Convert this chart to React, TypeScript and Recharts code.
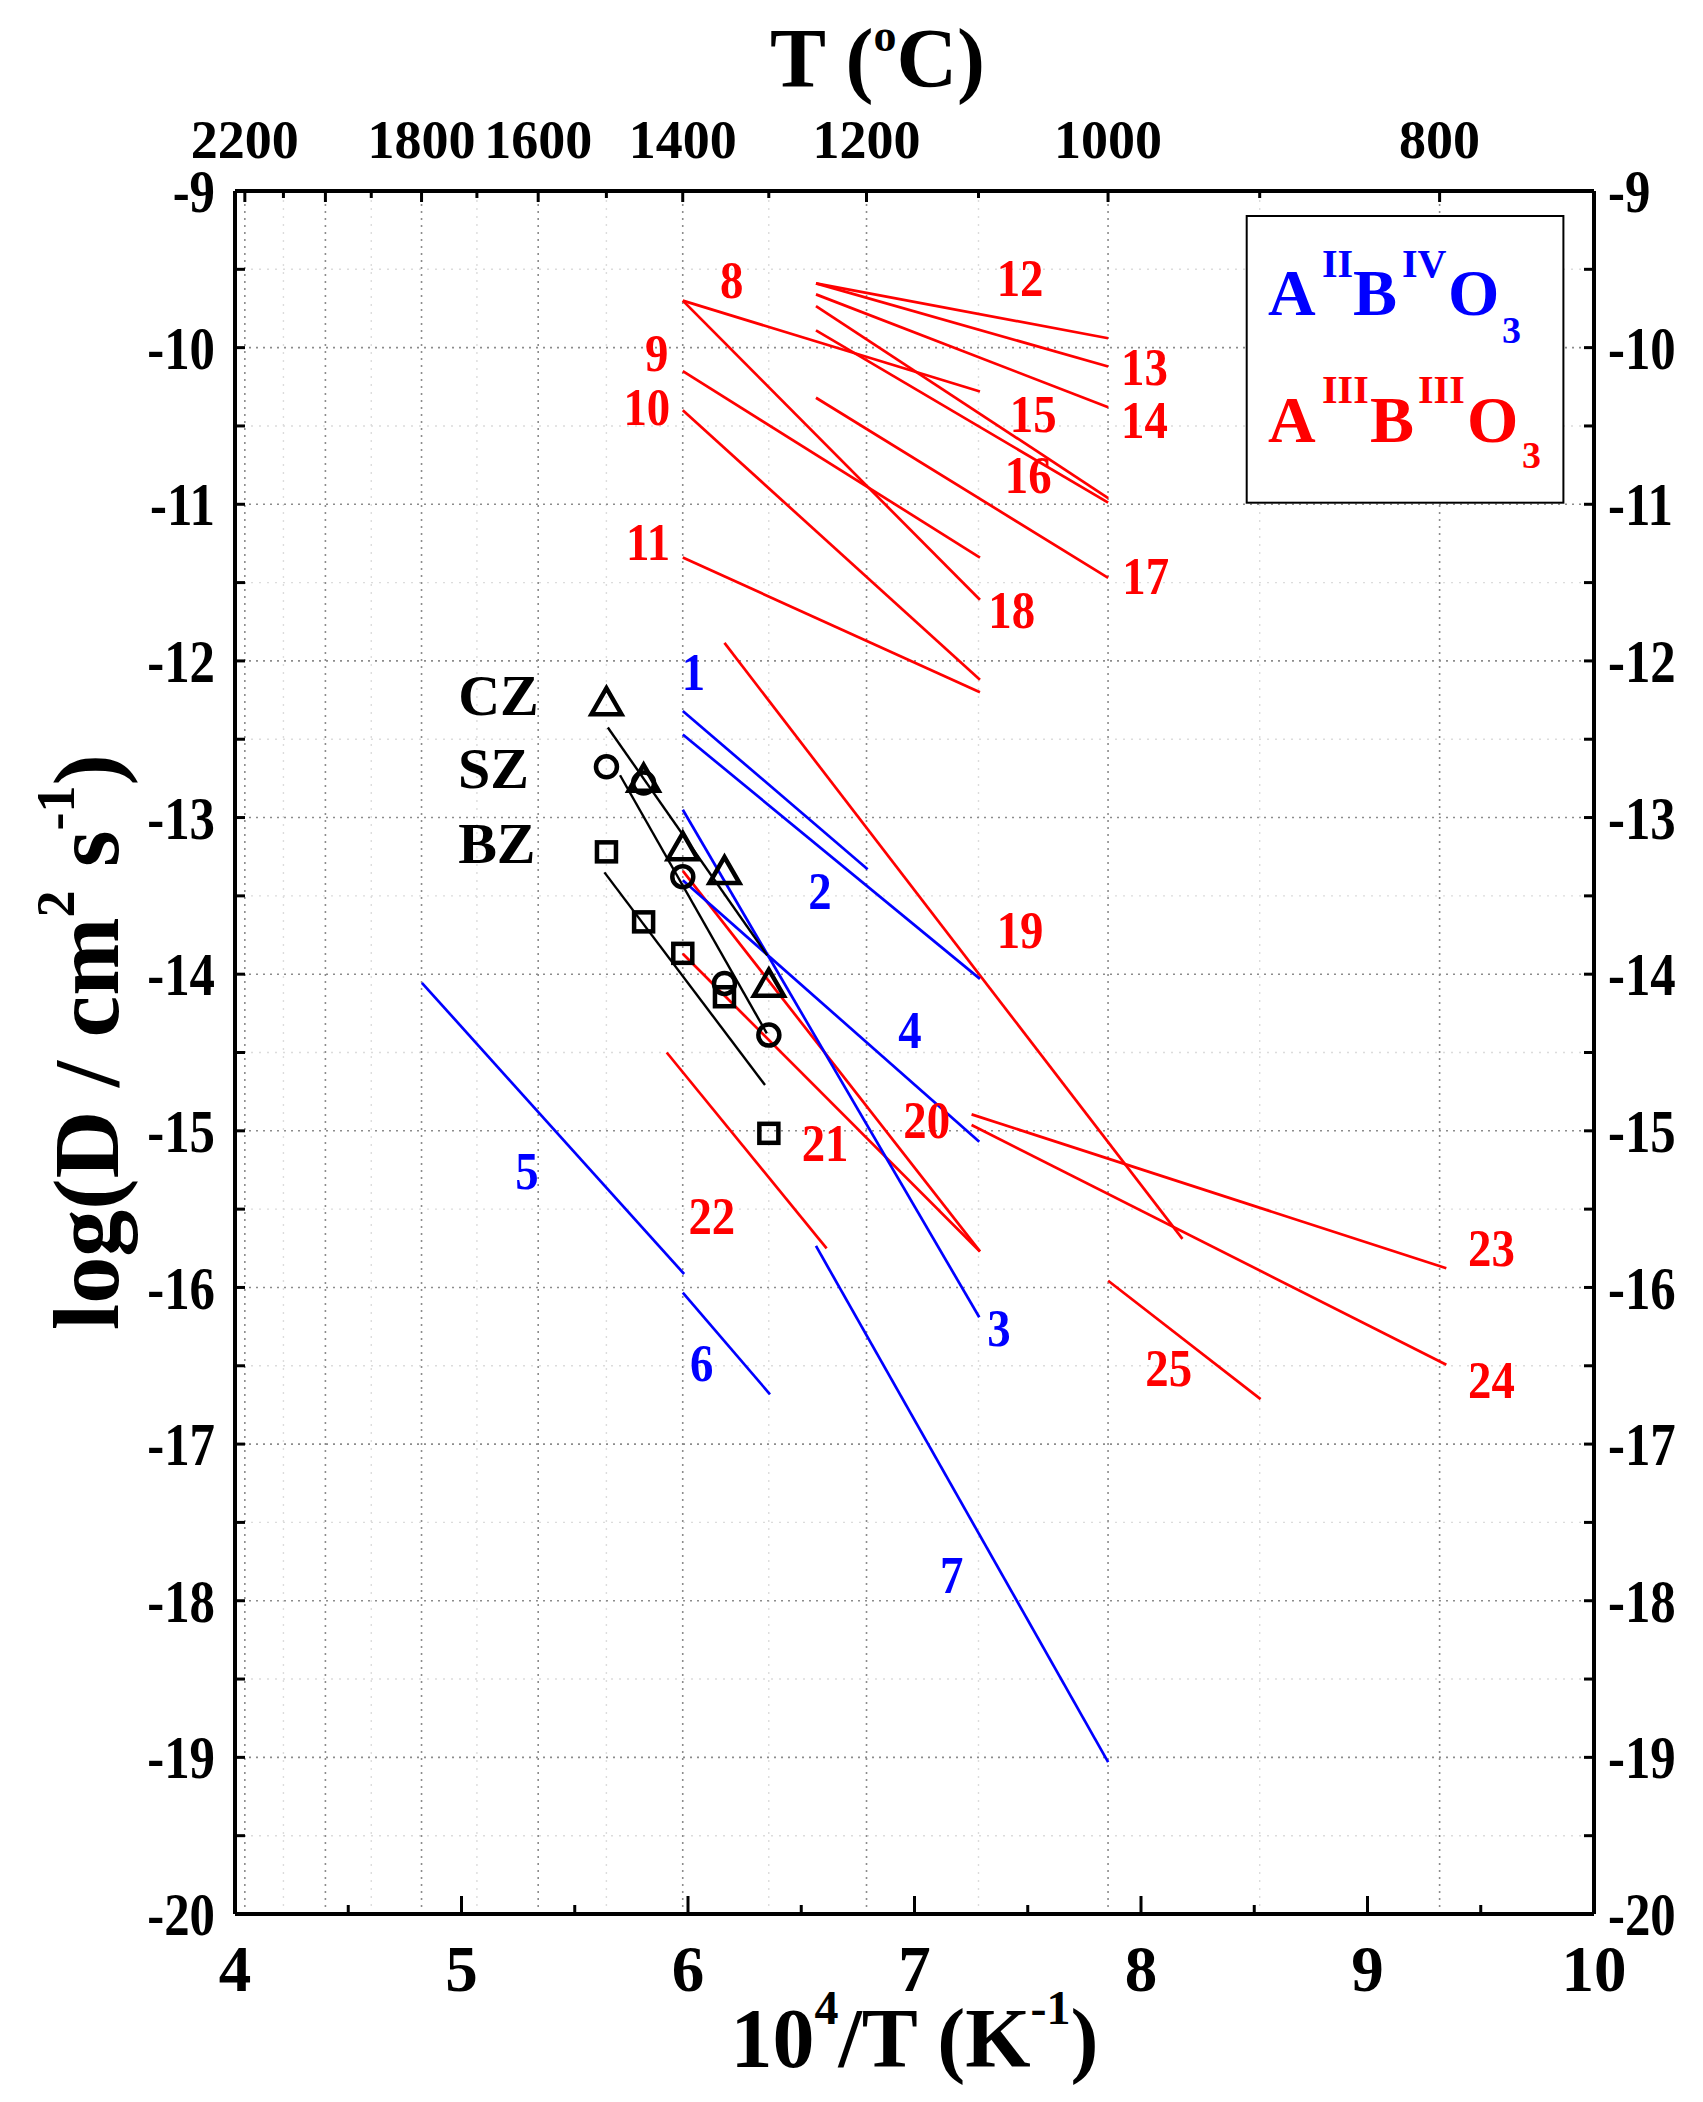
import React from 'react';
import { ComposedChart, Line, Scatter, XAxis, YAxis, ReferenceLine, Label } from 'recharts';

const W = 1703;
const H = 2102;
const FONT = '"Liberation Serif", "Times New Roman", Times, serif';
const RED = '#FF0000';
const BLUE = '#0000FF';

// segments: [x1, y1, x2, y2] with x = 10^4/T and y = log D
const redLines = [
  [5.977, -9.7, 7.289, -10.28],
  [5.977, -9.7, 7.289, -11.61],
  [5.977, -10.15, 7.289, -11.34],
  [5.977, -10.4, 7.289, -12.12],
  [5.977, -11.34, 7.289, -12.2],
  [6.565, -9.59, 7.855, -9.94],
  [6.565, -9.59, 7.855, -10.12],
  [6.565, -9.66, 7.855, -10.38],
  [6.565, -9.735, 7.855, -10.96],
  [6.565, -9.89, 7.855, -10.99],
  [6.565, -10.32, 7.855, -11.47],
  [6.161, -11.885, 8.183, -15.69],
  [5.977, -13.34, 7.289, -15.77],
  [5.977, -13.87, 7.289, -15.77],
  [5.906, -14.5, 6.612, -15.75],
  [7.252, -14.895, 9.348, -15.877],
  [7.252, -14.963, 9.348, -16.493],
  [7.855, -15.957, 8.528, -16.713],
];

const blueLines = [
  [5.977, -12.32, 6.793, -13.33],
  [5.977, -12.47, 7.289, -14.03],
  [5.977, -12.95, 7.286, -16.19],
  [5.977, -13.4, 7.286, -15.07],
  [4.825, -14.055, 5.983, -15.914],
  [5.977, -16.033, 6.362, -16.682],
  [6.565, -15.735, 7.855, -19.03],
];

const czPoints = [[5.64, -12.283], [5.804, -12.772], [5.977, -13.208], [6.161, -13.361], [6.357, -14.08]];
const szPoints = [[5.64, -12.676], [5.804, -12.78], [5.977, -13.378], [6.161, -14.059], [6.357, -14.389]];
const bzPoints = [[5.64, -13.219], [5.804, -13.666], [5.977, -13.867], [6.161, -14.144], [6.357, -15.016]];

const czFit = [5.646, -12.425, 6.35, -13.88];
const szFit = [5.7, -12.73, 6.348, -14.378];
const bzFit = [5.631, -13.35, 6.34, -14.708];

// [x, y, text]
const redLabels: [number, number, string][] = [
  [6.193, -9.57, '8'], [5.862, -10.038, '9'], [5.818, -10.379, '10'], [5.824, -11.24, '11'],
  [7.466, -9.56, '12'], [8.015, -10.127, '13'], [8.015, -10.462, '14'], [7.524, -10.428, '15'],
  [7.502, -10.815, '16'], [8.021, -11.458, '17'], [7.429, -11.676, '18'], [7.466, -13.718, '19'],
  [7.054, -14.931, '20'], [6.605, -15.08, '21'], [6.105, -15.548, '22'], [9.547, -15.75, '23'],
  [9.547, -16.59, '24'], [8.122, -16.516, '25'],
];
const blueLabels: [number, number, string][] = [
  [6.024, -12.07, '1'], [6.583, -13.474, '2'], [7.373, -16.26, '3'], [6.98, -14.357, '4'],
  [5.289, -15.261, '5'], [6.061, -16.484, '6'], [7.164, -17.835, '7'],
];
const sampleLabels: [number, number, string][] = [
  [5.163, -12.219, 'CZ'], [5.141, -12.687, 'SZ'], [5.156, -13.165, 'BZ'],
];

const xTicks = [4, 4.5, 5, 5.5, 6, 6.5, 7, 7.5, 8, 8.5, 9, 9.5, 10];
const yTicks = [-20, -19.5, -19, -18.5, -18, -17.5, -17, -16.5, -16, -15.5, -15, -14.5, -14, -13.5, -13, -12.5, -12, -11.5, -11, -10.5, -10, -9.5, -9];
const yGridMajor = [-19, -18, -17, -16, -15, -14, -13, -12, -11, -10];
const yGridMinor = [-19.5, -18.5, -17.5, -16.5, -15.5, -14.5, -13.5, -12.5, -11.5, -10.5, -9.5];

const topTemps = [2200, 2100, 2000, 1900, 1800, 1700, 1600, 1500, 1400, 1300, 1200, 1100, 1000, 900, 800];
const topLabeled = [2200, 1800, 1600, 1400, 1200, 1000, 800];
const topMajor = [2200, 2000, 1800, 1600, 1400, 1200, 1000, 800];
const topMinor = [2100, 1900, 1700, 1500, 1300, 1100, 900];

const invT = (t: number) => 10000 / (t + 273.15);
const seg = (s: number[]) => [{ x: s[0], y: s[1] }, { x: s[2], y: s[3] }];
const pts = (a: number[][]) => a.map(([x, y]) => ({ x, y }));
const lbls = (a: [number, number, string][]) => a.map(([x, y, t]) => ({ x, y, t }));

const BottomTick = (p: any) => {
  const v = p.payload.value;
  const major = Math.abs(v - Math.round(v)) < 1e-6;
  return (
    <g>
      <line x1={p.x} x2={p.x} y1={p.y} y2={p.y - (major ? 18 : 9)} stroke="#000" strokeWidth={3} />
      {major && (
        <text x={p.x} y={p.y + 77} textAnchor="middle" fontFamily={FONT} fontWeight="bold" fontSize={65} fill="#000">
          {v}
        </text>
      )}
    </g>
  );
};

const LeftTick = (p: any) => {
  const v = p.payload.value;
  const major = Math.abs(v - Math.round(v)) < 1e-6;
  return (
    <g>
      <line x1={p.x} x2={p.x + 10} y1={p.y} y2={p.y} stroke="#000" strokeWidth={3} />
      {major && (
        <text transform={`translate(${p.x - 20},${p.y}) scale(0.82,1)`} dy="0.34em" textAnchor="end"
          fontFamily={FONT} fontWeight="bold" fontSize={62} fill="#000">
          {v}
        </text>
      )}
    </g>
  );
};

const RightTick = (p: any) => {
  const v = p.payload.value;
  const major = Math.abs(v - Math.round(v)) < 1e-6;
  return (
    <g>
      <line x1={p.x} x2={p.x - 10} y1={p.y} y2={p.y} stroke="#000" strokeWidth={3} />
      {major && (
        <text transform={`translate(${p.x + 14},${p.y}) scale(0.82,1)`} dy="0.34em" textAnchor="start"
          fontFamily={FONT} fontWeight="bold" fontSize={62} fill="#000">
          {v}
        </text>
      )}
    </g>
  );
};

const TopTick = (p: any) => {
  const t = Math.round(10000 / p.payload.value - 273.15);
  const major = topMajor.includes(t);
  return (
    <g>
      <line x1={p.x} x2={p.x} y1={p.y} y2={p.y + (major ? 11 : 7)} stroke="#000" strokeWidth={3} />
      {topLabeled.includes(t) && (
        <text x={p.x} y={p.y - 33} textAnchor="middle" fontFamily={FONT} fontWeight="bold" fontSize={54} fill="#000">
          {t}
        </text>
      )}
    </g>
  );
};

const BottomTitle = (p: any) => {
  const { x, y, width } = p.viewBox;
  return (
    <text x={x + width / 2} y={y + 153} textAnchor="middle" fontFamily={FONT} fontWeight="bold" fontSize={84} fill="#000">
      10<tspan dy={-43} fontSize={48}>4</tspan>
      <tspan dy={43}>/T (K</tspan>
      <tspan dy={-43} fontSize={48}>-1</tspan>
      <tspan dy={43}>)</tspan>
    </text>
  );
};

const TopTitle = (p: any) => {
  const { x, y, width } = p.viewBox;
  return (
    <text x={x + width / 2 - 37} y={y + 87} textAnchor="middle" fontFamily={FONT} fontWeight="bold" fontSize={84} fill="#000">
      T (<tspan dy={-36} fontSize={46}>o</tspan>
      <tspan dy={36}>C)</tspan>
    </text>
  );
};

const LeftTitle = (p: any) => {
  const { y } = p.viewBox;
  return (
    <text transform={`translate(118,${y + 851}) rotate(-90)`} textAnchor="middle" fontFamily={FONT} fontWeight="bold"
      fontSize={94} fill="#000">
      log(D / cm<tspan dy={-44} fontSize={54}>2</tspan>
      <tspan dy={44}> s</tspan>
      <tspan dy={-44} fontSize={54}>-1</tspan>
      <tspan dy={44}>)</tspan>
    </text>
  );
};

const labelShape = (color: string, size: number, sx: number) => (p: any) => (
  <text transform={`translate(${p.cx},${p.cy}) scale(${sx},1)`} dy="0.34em" textAnchor="middle" fontFamily={FONT}
    fontWeight="bold" fontSize={size} fill={color}>
    {p.payload.t}
  </text>
);

const triangle = (p: any) => (
  <polygon points={`${p.cx},${p.cy - 17} ${p.cx - 15},${p.cy + 9} ${p.cx + 15},${p.cy + 9}`} fill="none" stroke="#000" strokeWidth={4.5} />
);
const circle = (p: any) => <circle cx={p.cx} cy={p.cy} r={10.5} fill="none" stroke="#000" strokeWidth={4.5} />;
const square = (p: any) => <rect x={p.cx - 9.5} y={p.cy - 9.5} width={19} height={19} fill="none" stroke="#000" strokeWidth={4.5} />;

const axisLine = { stroke: '#000', strokeWidth: 4 };
const gridMajor = { stroke: '#8c8c8c', strokeWidth: 1.6, strokeDasharray: '2 5' };
const gridMinor = { stroke: '#dcdcdc', strokeWidth: 1.4, strokeDasharray: '2 6' };

const Legend = () => (
  <svg width={W} height={H} style={{ position: 'absolute', left: 0, top: 0, pointerEvents: 'none' }}>
    <rect x={1246.7} y={216} width={316.7} height={286.7} fill="#fff" stroke="#000" strokeWidth={2} />
    <g fontFamily={FONT} fontWeight="bold" fill={BLUE}>
      <text x={1268} y={315} fontSize={66}>A</text>
      <text x={1322} y={277} fontSize={40}>II</text>
      <text x={1353} y={315} fontSize={66}>B</text>
      <text x={1402} y={277} fontSize={40}>IV</text>
      <text x={1448} y={315} fontSize={66}>O</text>
      <text x={1502} y={343} fontSize={38}>3</text>
    </g>
    <g fontFamily={FONT} fontWeight="bold" fill={RED}>
      <text x={1268} y={442} fontSize={66}>A</text>
      <text x={1322} y={403} fontSize={40}>III</text>
      <text x={1370} y={442} fontSize={66}>B</text>
      <text x={1418} y={403} fontSize={40}>III</text>
      <text x={1467} y={442} fontSize={66}>O</text>
      <text x={1522} y={468} fontSize={38}>3</text>
    </g>
  </svg>
);

const App = () => (
  <div style={{ position: 'absolute', left: 0, top: 0, width: W, height: H, background: '#fff' }}>
    <ComposedChart width={W} height={H} margin={{ top: 0, right: 0, bottom: 0, left: 0 }}>
      <XAxis xAxisId="b" type="number" dataKey="x" domain={[4, 10]} ticks={xTicks} interval={0} height={188}
        tickSize={0} tickMargin={0} tickLine={false} axisLine={axisLine} tick={BottomTick} allowDataOverflow>
        <Label content={BottomTitle} />
      </XAxis>
      <XAxis xAxisId="t" orientation="top" type="number" dataKey="x" domain={[4, 10]} ticks={topTemps.map(invT)} interval={0}
        height={191} tickSize={0} tickMargin={0} tickLine={false} axisLine={axisLine} tick={TopTick} allowDataOverflow>
        <Label content={TopTitle} />
      </XAxis>
      <YAxis yAxisId="l" type="number" dataKey="y" domain={[-20, -9]} ticks={yTicks} interval={0} width={235}
        tickSize={0} tickMargin={0} tickLine={false} axisLine={axisLine} tick={LeftTick} allowDataOverflow>
        <Label content={LeftTitle} />
      </YAxis>
      <YAxis yAxisId="r" orientation="right" type="number" dataKey="y" domain={[-20, -9]} ticks={yTicks} interval={0} width={109}
        tickSize={0} tickMargin={0} tickLine={false} axisLine={axisLine} tick={RightTick} allowDataOverflow />

      {topMinor.map((t) => (
        <ReferenceLine key={'vm' + t} xAxisId="b" yAxisId="l" x={invT(t)} {...gridMinor} />
      ))}
      {yGridMinor.map((v) => (
        <ReferenceLine key={'hm' + v} xAxisId="b" yAxisId="l" y={v} {...gridMinor} />
      ))}
      {topMajor.map((t) => (
        <ReferenceLine key={'vg' + t} xAxisId="b" yAxisId="l" x={invT(t)} {...gridMajor} />
      ))}
      {yGridMajor.map((v) => (
        <ReferenceLine key={'hg' + v} xAxisId="b" yAxisId="l" y={v} {...gridMajor} />
      ))}

      {redLines.map((s, i) => (
        <Line key={'r' + i} xAxisId="b" yAxisId="l" data={seg(s)} dataKey="y" type="linear" stroke={RED}
          strokeWidth={2.7} dot={false} activeDot={false} isAnimationActive={false} />
      ))}
      {blueLines.map((s, i) => (
        <Line key={'b' + i} xAxisId="b" yAxisId="l" data={seg(s)} dataKey="y" type="linear" stroke={BLUE}
          strokeWidth={2.7} dot={false} activeDot={false} isAnimationActive={false} />
      ))}
      {[czFit, szFit, bzFit].map((s, i) => (
        <Line key={'k' + i} xAxisId="b" yAxisId="l" data={seg(s)} dataKey="y" type="linear" stroke="#000"
          strokeWidth={2.4} dot={false} activeDot={false} isAnimationActive={false} />
      ))}

      <Scatter xAxisId="b" yAxisId="l" data={pts(czPoints)} dataKey="y" shape={triangle} isAnimationActive={false} />
      <Scatter xAxisId="b" yAxisId="l" data={pts(szPoints)} dataKey="y" shape={circle} isAnimationActive={false} />
      <Scatter xAxisId="b" yAxisId="l" data={pts(bzPoints)} dataKey="y" shape={square} isAnimationActive={false} />

      <Scatter xAxisId="b" yAxisId="l" data={lbls(redLabels)} dataKey="y" shape={labelShape(RED, 52, 0.9)} isAnimationActive={false} />
      <Scatter xAxisId="b" yAxisId="r" data={lbls(blueLabels)} dataKey="y" shape={labelShape(BLUE, 52, 0.9)} isAnimationActive={false} />
      <Scatter xAxisId="t" yAxisId="l" data={lbls(sampleLabels)} dataKey="y" shape={labelShape('#000', 58, 1)} isAnimationActive={false} />
    </ComposedChart>
    <Legend />
  </div>
);

export default App;
